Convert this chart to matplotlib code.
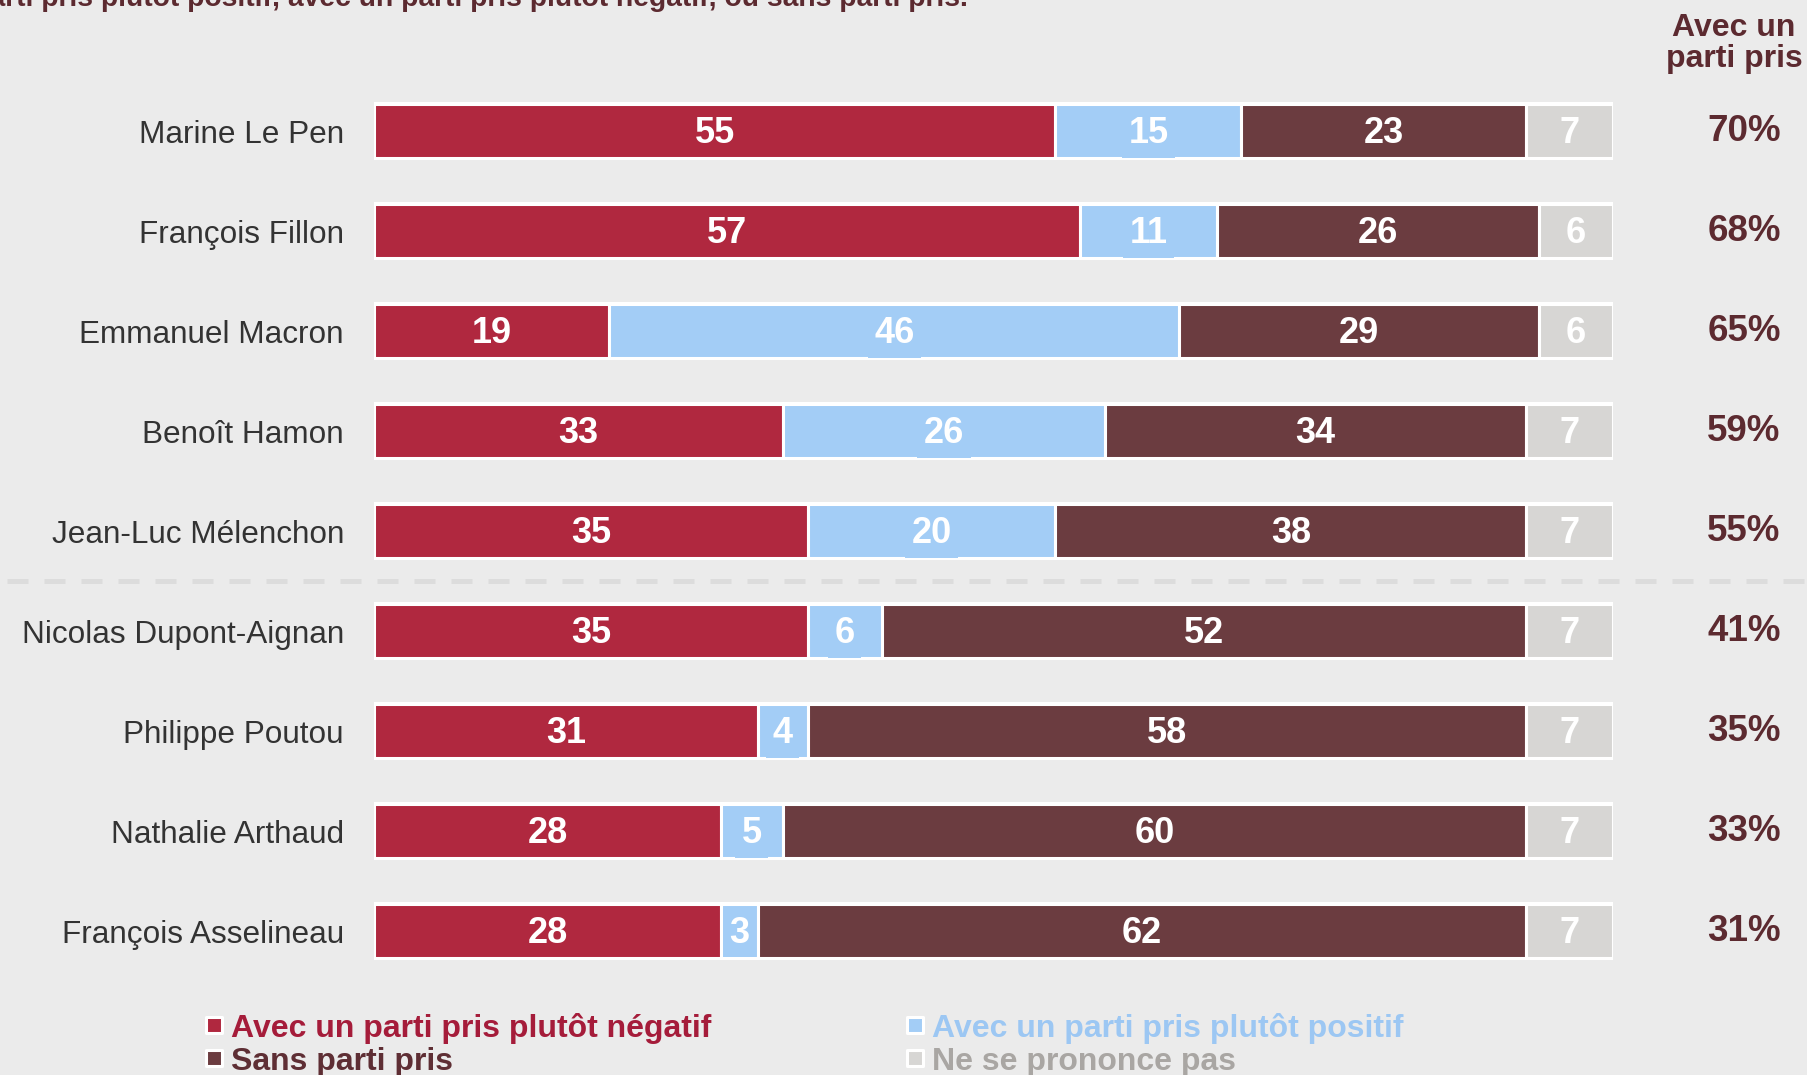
import matplotlib
matplotlib.use("Agg")
import matplotlib.pyplot as plt

plt.rcParams['font.family'] = ['Liberation Sans', 'DejaVu Sans']

candidates = ["Marine Le Pen", "François Fillon", "Emmanuel Macron", "Benoît Hamon",
              "Jean-Luc Mélenchon", "Nicolas Dupont-Aignan", "Philippe Poutou",
              "Nathalie Arthaud", "François Asselineau"]
negatif = [55, 57, 19, 33, 35, 35, 31, 28, 28]
positif = [15, 11, 46, 26, 20, 6, 4, 5, 3]
sans = [23, 26, 29, 34, 38, 52, 58, 60, 62]
nsp = [7, 6, 6, 7, 7, 7, 7, 7, 7]
avec_parti_pris = ["70%", "68%", "65%", "59%", "55%", "41%", "35%", "33%", "31%"]

series_names = ["Avec un parti pris plutôt négatif", "Avec un parti pris plutôt positif",
                "Sans parti pris", "Ne se prononce pas"]
series_colors = ["#B0283F", "#A3CDF6", "#6B3C40", "#D7D6D4"]
legend_text_colors = ["#A51C3A", "#9CC7F3", "#5E2E34", "#A9A6A3"]
header_lines = ["Avec un", "parti pris"]
title_text = ("avec un parti pris plutôt positif, avec un parti pris plutôt négatif, "
              "ou sans parti pris.")

W, H = 1807, 1075
BG = "#EBEBEB"
MAROON = "#5C2A30"

fig = plt.figure(figsize=(W / 100, H / 100), dpi=100, facecolor=BG)

# main bar axes: x in percent, y in rows
left_px, right_px = 374, 1613
top_px, bot_px = 81, 981
ax = fig.add_axes([left_px / W, (H - bot_px) / H, (right_px - left_px) / W, (bot_px - top_px) / H])
ax.set_xlim(0, 100)
ax.set_ylim(len(candidates) - 0.5, -0.5)
ax.axis("off")

ys = list(range(len(candidates)))
# white frame behind each row
ax.barh(ys, [100.4] * len(ys), left=-0.2, height=0.58, color="white", zorder=1)

series = [negatif, positif, sans, nsp]
lefts = [0] * len(candidates)
for k, (vals, col) in enumerate(zip(series, series_colors)):
    ax.barh(ys, vals, left=lefts, height=0.54, color=col, edgecolor="white",
            linewidth=2.2, zorder=2)
    for i, v in enumerate(vals):
        x = lefts[i] + v / 2
        kw = {}
        if k == 1:
            kw["bbox"] = dict(boxstyle="square,pad=0.18", facecolor=col, edgecolor="none")
        ax.text(x, i + 0.12, str(v), ha="center", va="baseline", color="white",
                fontsize=26, fontweight="bold", zorder=4, **kw)
    lefts = [l + v for l, v in zip(lefts, vals)]

# overlay axes in pixel coordinates for surrounding text
ov = fig.add_axes([0, 0, 1, 1])
ov.set_xlim(0, W)
ov.set_ylim(H, 0)
ov.axis("off")

# title, cut at the top edge as in the reference
ov.text(968, 6, title_text, ha="right", va="baseline", color=MAROON,
        fontsize=20.3, fontweight="bold")

# header of right column
ov.text(1734, 36, header_lines[0], ha="center", va="baseline", color=MAROON,
        fontsize=23, fontweight="bold")
ov.text(1734, 67, header_lines[1], ha="center", va="baseline", color=MAROON,
        fontsize=23, fontweight="bold")

row_px = [top_px + 50 + 100 * i for i in ys]
for i, name in enumerate(candidates):
    ov.text(344, row_px[i] + 12, name, ha="right", va="baseline", color="#333333",
            fontsize=22.7)
    ov.text(1744, row_px[i] + 10, avec_parti_pris[i], ha="center", va="baseline",
            color=MAROON, fontsize=26.5, fontweight="bold")

# dashed separator
ov.plot([7, W], [581, 581], color="#DCDCDC", lw=3.6, ls=(0, (4.2, 3.2)),
        solid_capstyle="butt", dash_capstyle="butt")

# legend
leg_pos = [(214, 1037), (915, 1037), (214, 1070), (915, 1070)]
for (lx, ly), name, col, tcol in zip(leg_pos, series_names, series_colors, legend_text_colors):
    ov.scatter([lx], [ly - 12], marker="s", s=117, color=col, edgecolor="white",
               linewidth=2.2, zorder=5)
    ov.text(lx + 17, ly, name, ha="left", va="baseline", color=tcol,
            fontsize=23, fontweight="bold")

fig.savefig("out.png", dpi=100, facecolor=BG)
